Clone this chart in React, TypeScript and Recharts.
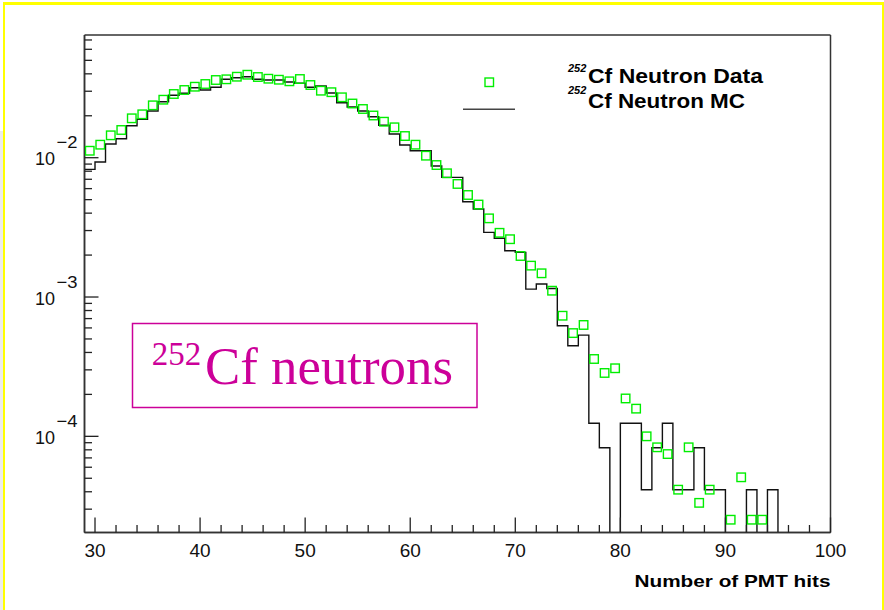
import React from "react";
import { ComposedChart, Line, Scatter, XAxis, YAxis, Legend, Label, CartesianGrid } from "recharts";

// bins are 1 hit wide, first bin starts at 29
const BIN_START = 29;
const X_DOMAIN = [29, 100];
const Y_DOMAIN = [2.04e-5, 0.076];
const EMPTY_BIN = 1e-7; // drawn below the frame, like ROOT does for empty bins on log y

// 252Cf neutron MC (black histogram), bins 29..99
const mcValues = [
    0.00825, 0.00931, 0.01254, 0.01369, 0.01697, 0.01887, 0.02163, 0.02523, 0.02805, 0.02899,
    0.0318, 0.03062, 0.03202, 0.03654, 0.03752, 0.03815, 0.03654, 0.03612, 0.03612, 0.03494,
    0.0342, 0.03202, 0.03271, 0.02914, 0.02482, 0.02312, 0.02163, 0.01969, 0.01711, 0.01479,
    0.01233, 0.01122, 0.01122, 0.00872, 0.00723, 0.00723, 0.00483, 0.00428, 0.00291, 0.00264,
    0.00215, 0.00209, 0.00114, 0.00124, 0.00115, 0.000622, 0.000447, 0.000533, 0.000124, 0.0000828,
    0, 0.000124, 0.000124, 0.0000414, 0.0000828, 0.000124, 0.0000414, 0.0000414, 0.0000828, 0.0000414,
    0.0000414, 0, 0, 0.0000414, 0, 0.0000414, 0, 0, 0, 0,
    0,
];

// 252Cf neutron data (green squares), bins 29..99, null = no entry
const dataValues = [
    0.01122, 0.0124, 0.01448, 0.01581, 0.01918, 0.02049, 0.02377, 0.02608, 0.02866, 0.03062,
    0.03233, 0.03381, 0.03612, 0.03654, 0.03814, 0.03942, 0.03795, 0.0369, 0.03629, 0.03535,
    0.03672, 0.03325, 0.03027, 0.02953, 0.02714, 0.02449, 0.02237, 0.02009, 0.01813, 0.01653,
    0.01431, 0.0124, 0.01034, 0.00886, 0.00773, 0.00648, 0.0054, 0.00461, 0.00367, 0.00289,
    0.0026, 0.00197, 0.00168, 0.00148, 0.00111, 0.000734, 0.000551, 0.00063, 0.000359, 0.000285,
    0.000308, 0.000187, 0.000158, 0.0001, 0.0000834, 0.0000746, 0.0000414, 0.0000834, 0.0000333, 0.0000414,
    null, 0.0000252, 0.0000508, 0.0000252, 0.0000252, null, null, null, null, null,
    null,
];

const xTicks = [30, 32, 34, 36, 38, 40, 42, 44, 46, 48, 50, 52, 54, 56, 58, 60, 62, 64, 66, 68, 70, 72, 74, 76, 78, 80, 82, 84, 86, 88, 90, 92, 94, 96, 98, 100];
const yTicks = [
    3e-5, 4e-5, 5e-5, 6e-5, 7e-5, 8e-5, 9e-5,
    1e-4, 2e-4, 3e-4, 4e-4, 5e-4, 6e-4, 7e-4, 8e-4, 9e-4,
    1e-3, 2e-3, 3e-3, 4e-3, 5e-3, 6e-3, 7e-3, 8e-3, 9e-3,
    1e-2, 2e-2, 3e-2, 4e-2, 5e-2, 6e-2, 7e-2,
];

const mcRows = mcValues.map((v, i) => ({ x: BIN_START + i, y: v > 0 ? v : EMPTY_BIN }));
mcRows.push({ x: BIN_START + mcValues.length, y: mcRows[mcRows.length - 1].y });

const dataRows = dataValues
    .map((v, i) => ({ x: BIN_START + i + 0.5, y: v }))
    .filter((r) => r.y !== null);

const GREEN = "#00ee00";
const FRAME = "#333333";
const MAGENTA = "#cc0099";
const SANS = "'Liberation Sans', Arial, sans-serif";
const SERIF = "'Liberation Serif', 'Times New Roman', serif";

function XTick(props: any) {
    const { x, y, payload } = props;
    const major = payload.value % 10 === 0;
    return (
        <g>
            <line x1={x} x2={x} y1={y} y2={y - (major ? 15 : 7.5)} stroke="#222" strokeWidth={1.3} />
            {major && (
                <text x={x} y={y + 24.5} textAnchor="middle" fontSize={19} fontFamily={SANS} fill="#111">
                    {payload.value}
                </text>
            )}
        </g>
    );
}

function YTick(props: any) {
    const { x, y, payload } = props;
    const lg = Math.log10(payload.value);
    const exp = Math.round(lg);
    const major = Math.abs(lg - exp) < 1e-6;
    return (
        <g>
            <line x1={x} x2={x + (major ? 14 : 7.5)} y1={y} y2={y} stroke="#222" strokeWidth={1.3} />
            {major && (
                <g fontFamily={SANS} fill="#111">
                    <text x={x - 29.5} y={y + 7.5} textAnchor="end" fontSize={18}>10</text>
                    <text x={x - 28} y={y - 9.4} fontSize={17} textLength={21} lengthAdjust="spacingAndGlyphs">
                        {"\u2212" + -exp}
                    </text>
                </g>
            )}
        </g>
    );
}

function Square(props: any) {
    const { cx, cy } = props;
    if (cx == null || cy == null) return null;
    return <rect x={cx - 4.25} y={cy - 4.25} width={8.5} height={8.5} fill="none" stroke={GREEN} strokeWidth={1.4} />;
}

function XTitle(props: any) {
    const { viewBox } = props;
    return (
        <text
            x={viewBox.x + viewBox.width}
            y={viewBox.y + 54}
            textAnchor="end"
            fontSize={17}
            fontWeight="bold"
            fontFamily={SANS}
            textLength={196}
            lengthAdjust="spacingAndGlyphs"
        >
            Number of PMT hits
        </text>
    );
}

function LegendBox() {
    return (
        <svg width={884} height={610} style={{ position: "absolute", left: 0, top: 0 }}>
            <rect x={485} y={78} width={8.5} height={8.5} fill="none" stroke={GREEN} strokeWidth={1.4} />
            <line x1={463} x2={515} y1={109.3} y2={109.3} stroke="#444" strokeWidth={1.5} />
            <g fontFamily={SANS} fontWeight="bold" fill="#000">
                <text x={568} y={72} fontSize={11} fontStyle="italic">252</text>
                <text x={588} y={83.3} fontSize={21} textLength={175} lengthAdjust="spacingAndGlyphs">Cf Neutron Data</text>
                <text x={568} y={93.5} fontSize={11} fontStyle="italic">252</text>
                <text x={588} y={107.7} fontSize={21} textLength={157} lengthAdjust="spacingAndGlyphs">Cf Neutron MC</text>
            </g>
        </svg>
    );
}

function SourceLabel() {
    return (
        <svg width={884} height={610} style={{ position: "absolute", left: 0, top: 0, pointerEvents: "none" }}>
            <rect x={132.5} y={323.5} width={344.5} height={84} fill="#fff" stroke={MAGENTA} strokeWidth={1.5} />
            <text x={151.7} y={365} fontSize={33} fontFamily={SERIF} fill={MAGENTA}>252</text>
            <text x={205} y={384} fontSize={52} fontFamily={SERIF} fill={MAGENTA} textLength={248} lengthAdjust="spacingAndGlyphs">
                Cf neutrons
            </text>
        </svg>
    );
}

// frame = the four edges of the plot area
const frameRows = ({ offset }: any) => [offset.top, offset.top + offset.height];
const frameCols = ({ offset }: any) => [offset.left, offset.left + offset.width];

export default function App() {
    return (
        <div style={{ position: "absolute", left: 0, top: 0, width: 884, height: 610, background: "#fff", overflow: "hidden" }}>
            <div style={{ position: "absolute", left: 0, top: 131, width: 3, height: 479, background: "#ececec" }} />
            <div style={{ position: "absolute", left: 3, top: 2, width: 881, height: 2.5, background: "#ffff00" }} />
            <div style={{ position: "absolute", left: 3, top: 2, width: 2, height: 608, background: "#ffff00" }} />
            <div style={{ position: "absolute", left: 882, top: 2, width: 2, height: 608, background: "#ffff00" }} />
            <ComposedChart width={884} height={610} margin={{ top: 35, right: 53.5, bottom: 0, left: 0 }}>
                <CartesianGrid
                    stroke={FRAME}
                    strokeWidth={1.5}
                    horizontalCoordinatesGenerator={frameRows}
                    verticalCoordinatesGenerator={frameCols}
                />
                <XAxis
                    dataKey="x"
                    type="number"
                    domain={X_DOMAIN}
                    allowDataOverflow
                    ticks={xTicks}
                    interval={0}
                    tickSize={0}
                    tickMargin={0}
                    tickLine={false}
                    tick={<XTick />}
                    height={77.5}
                    axisLine={{ stroke: FRAME, strokeWidth: 1.5 }}
                >
                    <Label content={<XTitle />} />
                </XAxis>
                <YAxis
                    scale="log"
                    type="number"
                    domain={Y_DOMAIN}
                    allowDataOverflow
                    ticks={yTicks}
                    interval={0}
                    tickSize={0}
                    tickMargin={0}
                    tickLine={false}
                    tick={<YTick />}
                    width={84.5}
                    axisLine={{ stroke: FRAME, strokeWidth: 1.5 }}
                />
                <Line
                    data={mcRows}
                    dataKey="y"
                    type="stepAfter"
                    stroke="#111"
                    strokeWidth={1.4}
                    dot={false}
                    activeDot={false}
                    isAnimationActive={false}
                />
                <Scatter data={dataRows} dataKey="y" shape={<Square />} isAnimationActive={false} />
                <Legend
                    layout="horizontal"
                    verticalAlign="middle"
                    align="center"
                    content={<LegendBox />}
                    wrapperStyle={{ position: "absolute", left: 0, top: 0, width: 884, height: 610, pointerEvents: "none" }}
                />
            </ComposedChart>
            <SourceLabel />
        </div>
    );
}
